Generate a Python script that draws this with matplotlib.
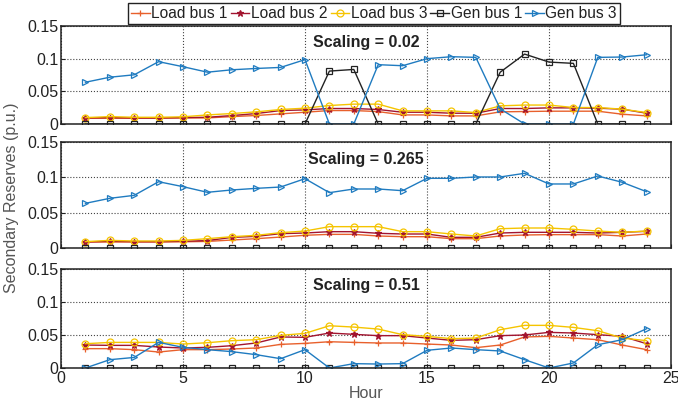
import matplotlib
matplotlib.use("Agg")
import matplotlib.pyplot as plt

plt.rcParams["font.family"] = ["Liberation Sans", "DejaVu Sans"]

hours = list(range(1, 25))

# scaling = 0.02
load1_a = [0.0088, 0.0088, 0.0088, 0.0088, 0.0093, 0.0093, 0.0113, 0.0130, 0.0155, 0.0180, 0.0206, 0.0206,
           0.0190, 0.0139, 0.0139, 0.0124, 0.0124, 0.0186, 0.0191, 0.0196, 0.0196, 0.0196, 0.0150, 0.0124]
load2_a = [0.0093, 0.0098, 0.0093, 0.0093, 0.0098, 0.0103, 0.0129, 0.0160, 0.0206, 0.0216, 0.0237, 0.0237,
           0.0222, 0.0180, 0.0180, 0.0165, 0.0165, 0.0237, 0.0237, 0.0247, 0.0247, 0.0242, 0.0227, 0.0165]
load3_a = [0.0098, 0.0113, 0.0103, 0.0103, 0.0110, 0.0139, 0.0160, 0.0186, 0.0222, 0.0242, 0.0283, 0.0304,
           0.0304, 0.0201, 0.0201, 0.0201, 0.0175, 0.0278, 0.0290, 0.0290, 0.0252, 0.0252, 0.0227, 0.0175]
gen1_a = [0, 0, 0, 0, 0, 0, 0, 0, 0, 0, 0.0810, 0.0835,
          0, 0, 0, 0, 0, 0.0793, 0.1070, 0.0948, 0.0928, 0, 0, 0]
gen3_a = [0.0639, 0.0716, 0.0753, 0.0954, 0.0877, 0.0793, 0.0830, 0.0850, 0.0866, 0.0985, 0, 0,
          0.0908, 0.0892, 0.1000, 0.1030, 0.1020, 0.0232, 0, 0, 0, 0.1020, 0.1025, 0.1060]

# scaling = 0.265
load1_b = [0.0085, 0.0085, 0.0085, 0.0085, 0.0088, 0.0093, 0.0113, 0.0132, 0.0155, 0.0180, 0.0193, 0.0193,
           0.0170, 0.0160, 0.0160, 0.0132, 0.0132, 0.0170, 0.0184, 0.0189, 0.0189, 0.0189, 0.0170, 0.0198]
load2_b = [0.0085, 0.0095, 0.0090, 0.0090, 0.0095, 0.0105, 0.0150, 0.0165, 0.0203, 0.0212, 0.0231, 0.0231,
           0.0208, 0.0198, 0.0198, 0.0151, 0.0151, 0.0212, 0.0222, 0.0222, 0.0222, 0.0212, 0.0222, 0.0236]
load3_b = [0.0090, 0.0108, 0.0099, 0.0099, 0.0108, 0.0132, 0.0160, 0.0179, 0.0217, 0.0240, 0.0302, 0.0302,
           0.0302, 0.0231, 0.0231, 0.0198, 0.0170, 0.0273, 0.0283, 0.0283, 0.0264, 0.0240, 0.0222, 0.0240]
gen1_b = [0] * 24
gen3_b = [0.0632, 0.0703, 0.0745, 0.0938, 0.0868, 0.0788, 0.0821, 0.0844, 0.0863, 0.0981, 0.0783, 0.0835,
          0.0835, 0.0811, 0.0986, 0.0986, 0.1005, 0.1005, 0.1057, 0.0906, 0.0906, 0.1019, 0.0930, 0.0797]

# scaling = 0.51
load1_c = [0.0293, 0.0293, 0.0278, 0.0242, 0.0278, 0.0278, 0.0288, 0.0303, 0.0358, 0.0373, 0.0398, 0.0388,
           0.0379, 0.0379, 0.0363, 0.0348, 0.0308, 0.0348, 0.0470, 0.0480, 0.0454, 0.0429, 0.0348, 0.0278]
load2_c = [0.0348, 0.0343, 0.0343, 0.0318, 0.0303, 0.0313, 0.0338, 0.0379, 0.0470, 0.0465, 0.0530, 0.0510,
           0.0490, 0.0490, 0.0454, 0.0419, 0.0429, 0.0490, 0.0500, 0.0540, 0.0530, 0.0505, 0.0480, 0.0368]
load3_c = [0.0368, 0.0388, 0.0388, 0.0388, 0.0363, 0.0383, 0.0414, 0.0429, 0.0494, 0.0525, 0.0640, 0.0620,
           0.0590, 0.0505, 0.0480, 0.0444, 0.0454, 0.0580, 0.0646, 0.0646, 0.0615, 0.0565, 0.0454, 0.0414]
gen1_c = [0] * 24
gen3_c = [0, 0.0126, 0.0160, 0.0388, 0.0313, 0.0278, 0.0248, 0.0202, 0.0141, 0.0278, 0, 0.0066,
          0.0060, 0.0066, 0.0268, 0.0303, 0.0278, 0.0258, 0.0126, 0, 0.0076, 0.0353, 0.0429, 0.0595]

scalings = ["0.02", "0.265", "0.51"]
names = ["Load bus 1", "Load bus 2", "Load bus 3", "Gen bus 1", "Gen bus 3"]
colors = ["#E8602C", "#A2142F", "#F5C400", "#222222", "#1F7BC0"]
markers = ["+", "*", "o", "s", ">"]

panels = [
    [load1_a, load2_a, load3_a, gen1_a, gen3_a],
    [load1_b, load2_b, load3_b, gen1_b, gen3_b],
    [load1_c, load2_c, load3_c, gen1_c, gen3_c],
]

fig = plt.figure(figsize=(6.78, 4.05), dpi=100)

# pixel boxes of the subplots (left, top, bottom)
W, H = 678, 405
boxes = [(61, 26, 124), (61, 142, 248), (61, 269, 368)]

tick_col = "#222222"
lab_col = "#555555"

axes = []
for i, (series, sc) in enumerate(zip(panels, scalings)):
    l, t, b = boxes[i]
    ax = fig.add_axes([l / W, (H - b) / H, 610 / W, (b - t) / H])
    for vals, name, c, m in zip(series, names, colors, markers):
        face = c if m in ["+", "*"] else "none"
        ax.plot(hours, vals, color=c, marker=m, markersize=5, markerfacecolor=face,
                markeredgecolor=c, markeredgewidth=0.9, linewidth=1.0, label=name)
    ax.set_xlim(0, 25)
    ax.set_ylim(0, 0.15)
    ax.set_xticks([0, 5, 10, 15, 20, 25])
    ax.set_yticks([0, 0.05, 0.1, 0.15])
    ax.set_yticklabels(["0", "0.05", "0.1", "0.15"])
    ax.grid(True, linestyle=":", color="#444444", linewidth=0.8)
    ax.tick_params(direction="in", length=3, labelsize=11.5, colors=tick_col, pad=2)
    for s in ax.spines.values():
        s.set_linewidth(1.1)
        s.set_color("#222222")
    ax.text(12.5, 0.125, "Scaling = " + sc, ha="center", va="center",
            fontsize=11.5, fontweight="bold", color="#222222")
    if i < 2:
        ax.set_xticklabels([])
    axes.append(ax)

axes[2].set_xlabel("Hour", fontsize=11.5, color=lab_col, labelpad=0)
fig.text(12 / W, 1 - 198 / H, "Secondary Reserves (p.u.)", rotation=90,
         ha="center", va="center", fontsize=11.5, color=lab_col)

h, lbl = axes[0].get_legend_handles_labels()
leg = fig.legend(h, lbl, loc="upper center", bbox_to_anchor=(374 / W, 1 - 3 / H), ncol=5,
                 fontsize=11.2, frameon=True, fancybox=False, framealpha=1,
                 handlelength=1.2, handletextpad=0.1, columnspacing=0.2,
                 borderpad=0.2, borderaxespad=0)
leg.get_frame().set_edgecolor("#222222")
leg.get_frame().set_linewidth(1.0)
for t in leg.get_texts():
    t.set_color("#222222")

fig.savefig("out.png", dpi=100)
